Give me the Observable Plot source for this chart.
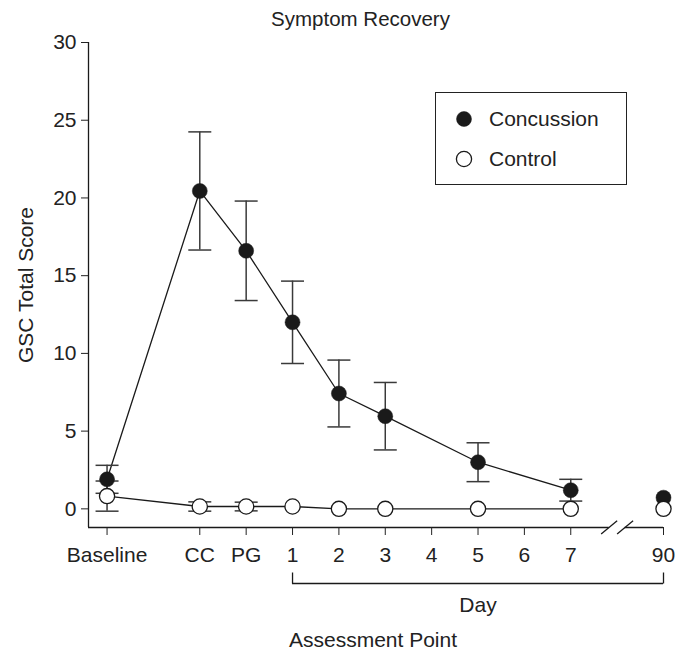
<!DOCTYPE html>
<html>
<head>
<meta charset="utf-8">
<script src="https://cdn.jsdelivr.net/npm/d3@7"></script>
<script src="https://cdn.jsdelivr.net/npm/@observablehq/plot@0.6"></script>
<style>
  body { margin: 0; background: #fff; }
  #wrap { position: relative; width: 687px; height: 651px; overflow: hidden;
          font-family: "Liberation Sans", Arial, Helvetica, sans-serif; color: #222; }
  #title { position: absolute; top: 4px; left: 0; width: 687px; text-align: center;
           font-size: 20.5px; line-height: 30px; transform: translateX(17px); white-space: nowrap; }
  #chart { position: absolute; top: 30px; left: 0; }
  #legend { position: absolute; left: 435px; top: 92px; width: 192px; height: 93px;
            box-sizing: border-box; border: 1.3px solid #222; background: #fff; }
  .item { position: absolute; left: 18px; height: 24px; display: flex; align-items: center;
          font-size: 21px; }
  .item svg { margin-right: 15px; }
</style>
</head>
<body>
<div id="wrap">
  <div id="title">Symptom Recovery</div>
  <div id="chart"></div>
  <div id="legend"></div>
</div>
<script>
// ---- data ----
const tickLabels = ["Baseline", "CC", "PG", "1", "2", "3", "4", "5", "6", "7", "90"];
const tickPositions = [0, 2, 3, 4, 5, 6, 7, 8, 9, 10, 12];
const assessmentPoints = ["Baseline", "CC", "PG", "1", "2", "3", "5", "7", "90"];
const concussionMean = [1.9, 20.45, 16.6, 12.0, 7.42, 5.96, 3.0, 1.2, 0.72];
const concussionErr  = [0.9, 3.8, 3.2, 2.65, 2.15, 2.17, 1.25, 0.7, 0];
const controlMean    = [0.82, 0.15, 0.15, 0.15, 0, 0, 0, 0, 0];
const controlErr     = [0.97, 0.3, 0.28, 0, 0, 0, 0, 0, 0];
const groups = ["Concussion", "Control"];
const yTicks = [0, 5, 10, 15, 20, 25, 30];
const dayRange = ["1", "90"];
const axisBreakBetween = ["7", "90"];

// ---- build rows ----
const posOf = (label) => tickPositions[tickLabels.indexOf(label)];
function makeRows(group, means, errs) {
  return assessmentPoints.map((p, i) => ({
    group, point: p, x: posOf(p), mean: means[i], err: errs[i],
    connected: p !== "90"
  }));
}
const concRows = makeRows("Concussion", concussionMean, concussionErr);
const ctrlRows = makeRows("Control", controlMean, controlErr);
const allRows = concRows.concat(ctrlRows);
const errRows = allRows.filter(d => d.err > 0);

const xMin = -0.4, xMax = 12;
const yMin = -1.2, yMax = 30;
const breakAt = (posOf(axisBreakBetween[0]) + posOf(axisBreakBetween[1])) / 2;
const breakGap = 0.172;
const dayStart = posOf(dayRange[0]), dayEnd = posOf(dayRange[1]);

// custom pixel symbols
const hline = { draw(ctx, size) { const r = Math.sqrt(size / Math.PI); ctx.moveTo(-r, 0); ctx.lineTo(r, 0); } };
const vline = { draw(ctx, size) { const r = Math.sqrt(size / Math.PI); ctx.moveTo(0, -r); ctx.lineTo(0, r); } };
const slash = { draw(ctx, size) { const r = Math.sqrt(size / Math.PI); ctx.moveTo(-r, 0.8 * r); ctx.lineTo(r, -0.85 * r); } };

const ink = "#1a1a1a";

const plot = Plot.plot({
  width: 687,
  height: 621,
  marginTop: 12,
  marginBottom: 124,
  marginLeft: 88,
  marginRight: 24,
  style: { fontSize: "21px", fontFamily: "'Liberation Sans', Arial, Helvetica, sans-serif", color: "#222", background: "transparent", overflow: "visible" },
  x: { domain: [xMin, xMax] },
  y: { domain: [yMin, yMax] },
  marks: [
    // y axis line
    Plot.ruleX([xMin], { y1: yMin, y2: yMax, stroke: ink, strokeWidth: 1.3 }),
    // x axis line with break
    Plot.ruleY([{ a: xMin, b: breakAt - breakGap }, { a: breakAt + breakGap, b: xMax }],
      { y: yMin, x1: "a", x2: "b", stroke: ink, strokeWidth: 1.3 }),
    Plot.dot([breakAt - breakGap, breakAt + breakGap], { x: d => d, y: yMin, symbol: slash, r: 8, stroke: ink, strokeWidth: 1.3, fill: "none" }),
    Plot.axisY({ ticks: yTicks, tickSize: 7, tickPadding: 5, label: null }),
    Plot.axisX({ ticks: tickPositions, tickFormat: v => tickLabels[tickPositions.indexOf(v)], tickSize: 8, tickPadding: 11.5, label: null }),
    // Day bracket
    Plot.ruleY([yMin], { x1: dayStart, x2: dayEnd, dy: 56, stroke: ink, strokeWidth: 1.3 }),
    Plot.dot([dayStart, dayEnd], { x: d => d, y: yMin, dy: 50.5, symbol: vline, r: 5.5, stroke: ink, strokeWidth: 1.3 }),
    Plot.text(["Day"], { x: (dayStart + dayEnd) / 2, y: yMin, dy: 78, fill: "#222" }),
    Plot.text(["Assessment Point"], { frameAnchor: "bottom", textAnchor: "middle", lineAnchor: "middle", dy: 113, dx: -3, fill: "#222" }),
    Plot.text(["GSC Total Score"], { frameAnchor: "left", textAnchor: "middle", lineAnchor: "middle", rotate: -90, dx: -62, fill: "#222" }),
    // lines
    Plot.line(allRows.filter(d => d.connected), { x: "x", y: "mean", z: "group", stroke: ink, strokeWidth: 1.3 }),
    // error bars
    Plot.ruleX(errRows, { x: "x", y1: d => d.mean - d.err, y2: d => d.mean + d.err, stroke: "#3a3a3a", strokeWidth: 1.5 }),
    Plot.dot(errRows, { x: "x", y: d => d.mean + d.err, symbol: hline, r: 11.5, stroke: "#3a3a3a", strokeWidth: 1.5 }),
    Plot.dot(errRows, { x: "x", y: d => d.mean - d.err, symbol: hline, r: 11.5, stroke: "#3a3a3a", strokeWidth: 1.5 }),
    // points
    Plot.dot(concRows, { x: "x", y: "mean", r: 7.5, fill: ink, stroke: ink, strokeWidth: 0.5 }),
    Plot.dot(ctrlRows, { x: "x", y: "mean", r: 7.6, fill: "white", stroke: ink, strokeWidth: 1.3 })
  ]
});
document.getElementById("chart").appendChild(plot);

// legend
const legend = document.getElementById("legend");
groups.forEach((g, i) => {
  const item = document.createElement("div");
  item.className = "item";
  item.style.top = (i === 0 ? 14 : 54) + "px";
  const filled = g === "Concussion";
  item.innerHTML = `<svg width="20" height="20"><circle cx="10" cy="10" r="${filled ? 7.5 : 7.6}" fill="${filled ? ink : "white"}" stroke="${ink}" stroke-width="${filled ? 0.5 : 1.3}"/></svg><span>${g}</span>`;
  legend.appendChild(item);
});
</script>
</body>
</html>
